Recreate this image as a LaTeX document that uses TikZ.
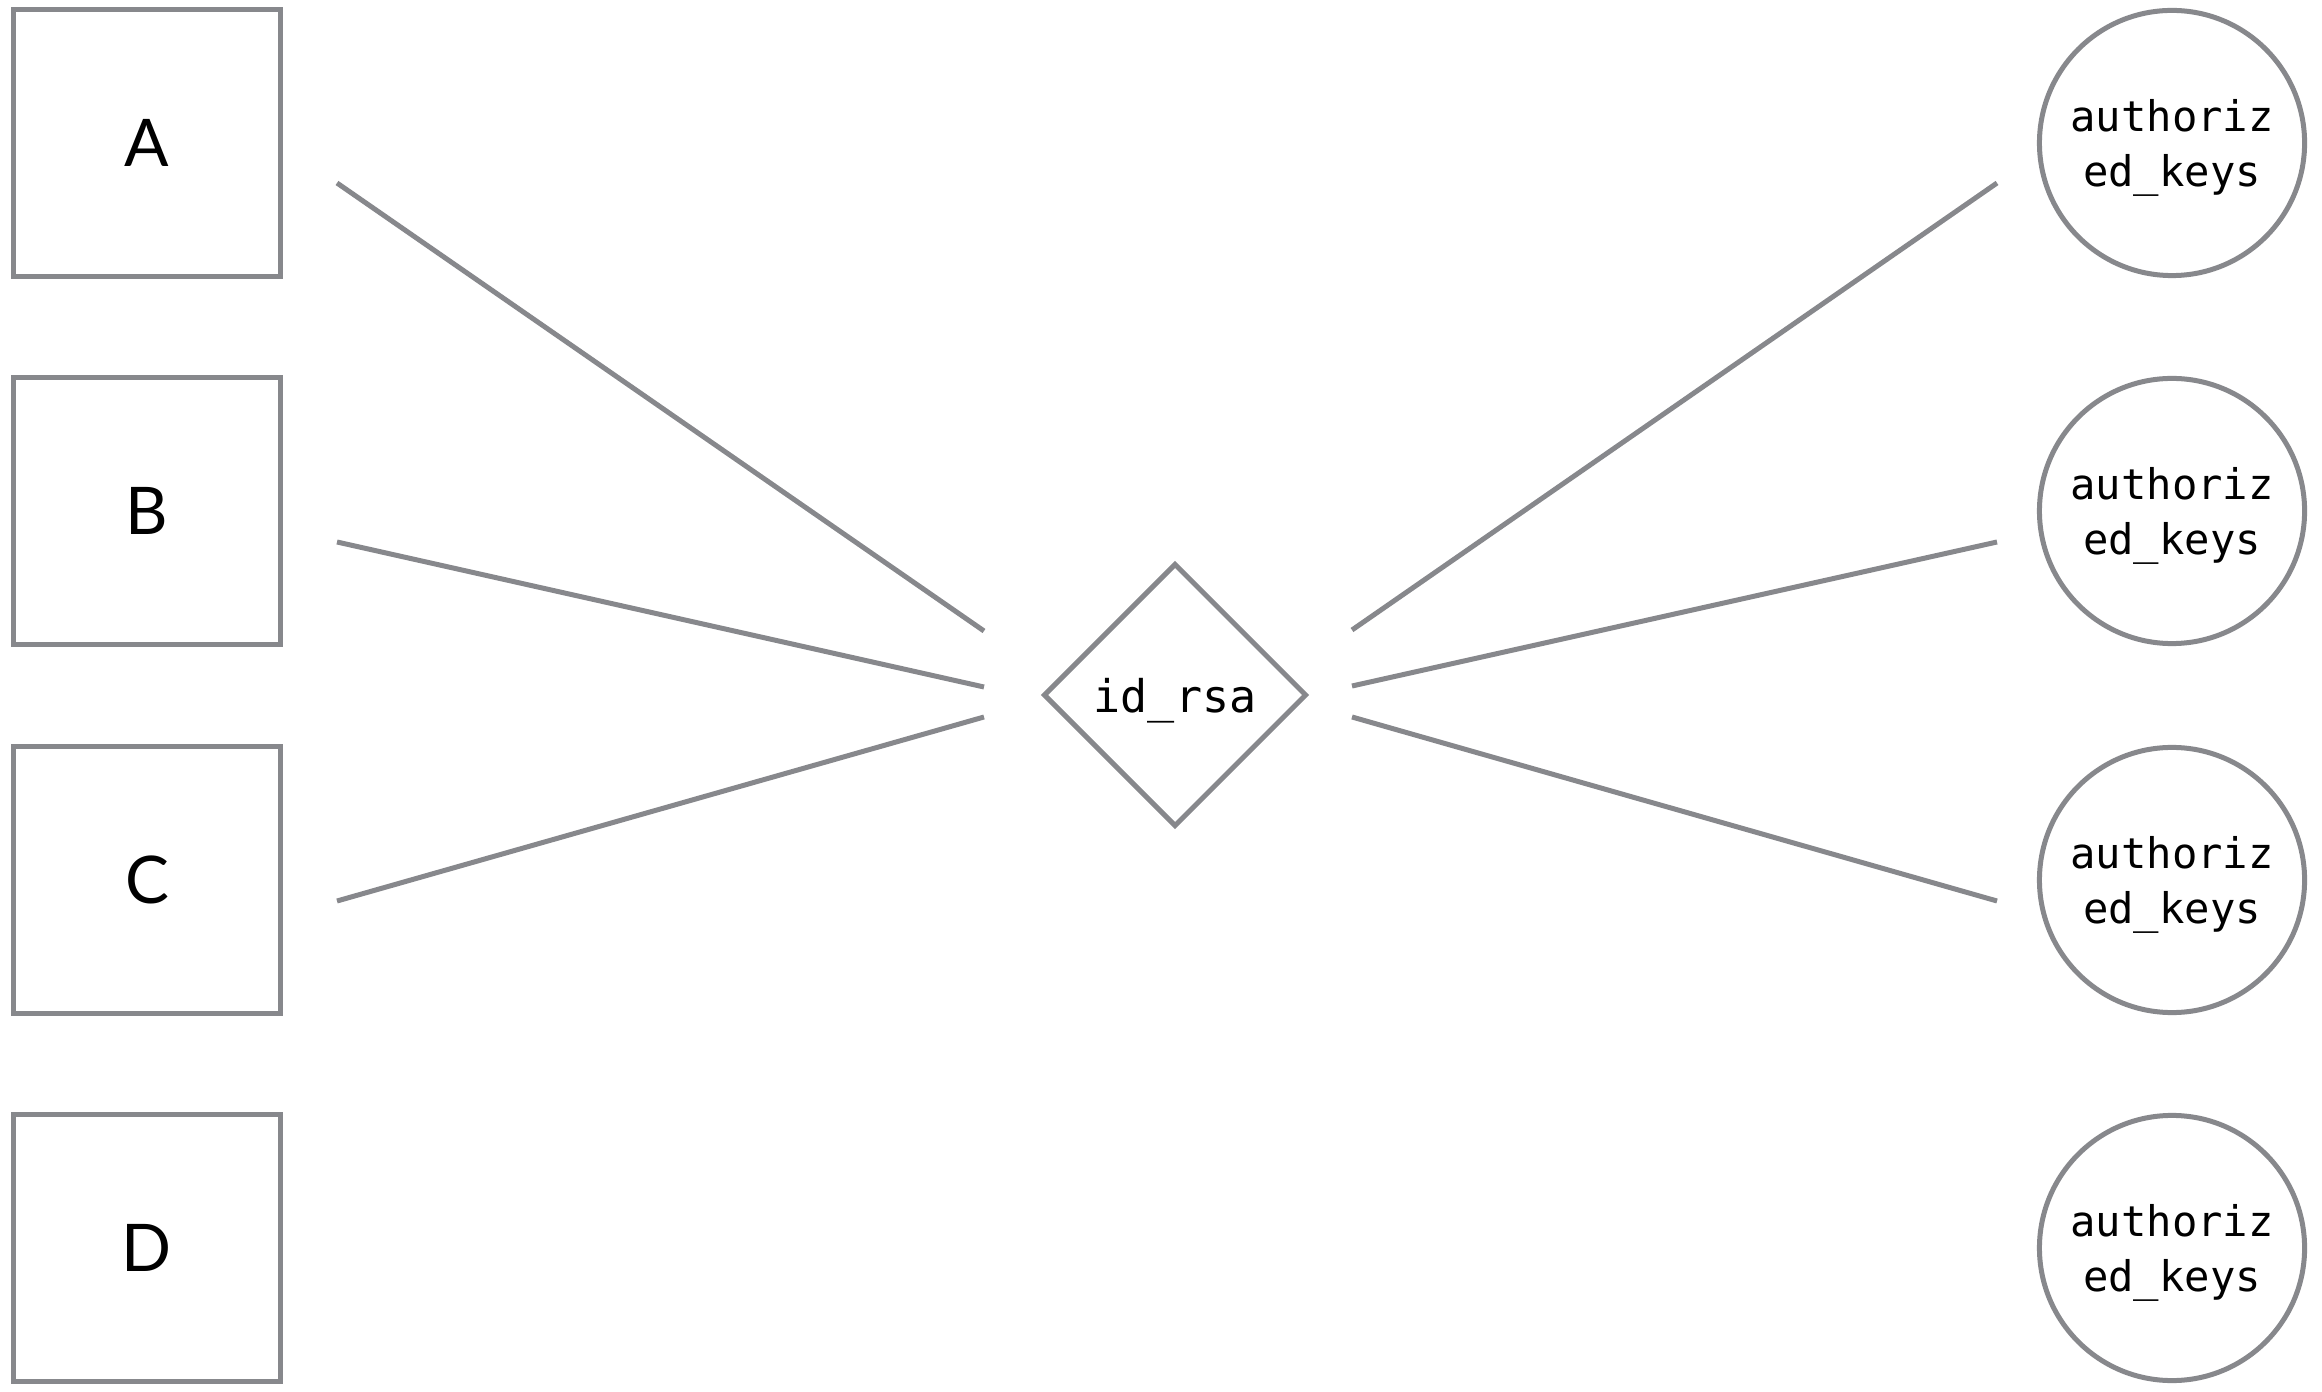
\documentclass[tikz,border=0pt]{standalone}
\usepackage{fontspec}
\setmainfont{Lato}
\newfontfamily\keyfont{DejaVu Sans Mono}
\usepackage{tikz}
\usetikzlibrary{shapes.geometric}
\usepackage{xcolor}
\definecolor{edgegray}{HTML}{87888C}

\begin{document}
\begin{tikzpicture}[
    x=0.01cm,y=-0.01cm,
    edge/.style={draw=edgegray,line width=0.05cm},
    host/.style={rectangle,draw=edgegray,line width=0.05cm,
                 minimum size=2.66cm,inner sep=0pt,text depth=0pt,
                 font=\fontsize{18.7}{22}\selectfont},
    keyfile/.style={circle,draw=edgegray,line width=0.05cm,
                    minimum size=2.65cm,inner sep=0pt,align=center,
                    text depth=0pt,
                    font=\keyfont\fontsize{12}{15.6}\selectfont},
    privkey/.style={diamond,draw=edgegray,line width=0.05cm,
                    minimum size=2.63cm,inner sep=0pt,text depth=0pt,
                    font=\keyfont\fontsize{12.8}{15.6}\selectfont}
]
  \useasboundingbox (0,0) rectangle (2322,1392);

  % Hosts on the left, authorized_keys files on the right.
  \node[host] (A) at (147, 143) {A};
  \node[host] (B) at (147, 511) {B};
  \node[host] (C) at (147, 880) {C};
  \node[host] (D) at (147,1248) {D};

  \node[keyfile] (k1) at (2172, 143) {authoriz\\ed\_keys};
  \node[keyfile] (k2) at (2172, 511) {authoriz\\ed\_keys};
  \node[keyfile] (k3) at (2172, 880) {authoriz\\ed\_keys};
  \node[keyfile] (k4) at (2172,1248) {authoriz\\ed\_keys};

  \node[privkey] (rsa) at (1175, 695) {id\_rsa};

  % Free ends of the spokes; they stop short of the shapes.
  \coordinate (A-out) at ( 337, 183);
  \coordinate (B-out) at ( 337, 542);
  \coordinate (C-out) at ( 337, 901);
  \coordinate (rsa-inA) at ( 984, 631);
  \coordinate (rsa-inB) at ( 984, 687);
  \coordinate (rsa-inC) at ( 984, 717);
  \coordinate (rsa-out1) at (1352, 630);
  \coordinate (rsa-out2) at (1352, 686);
  \coordinate (rsa-out3) at (1352, 717);
  \coordinate (k1-in) at (1997, 183);
  \coordinate (k2-in) at (1997, 542);
  \coordinate (k3-in) at (1997, 901);

  \draw[edge] (A-out)--(rsa-inA);
  \draw[edge] (B-out)--(rsa-inB);
  \draw[edge] (C-out)--(rsa-inC);
  \draw[edge] (rsa-out1)--(k1-in);
  \draw[edge] (rsa-out2)--(k2-in);
  \draw[edge] (rsa-out3)--(k3-in);
\end{tikzpicture}
\end{document}
